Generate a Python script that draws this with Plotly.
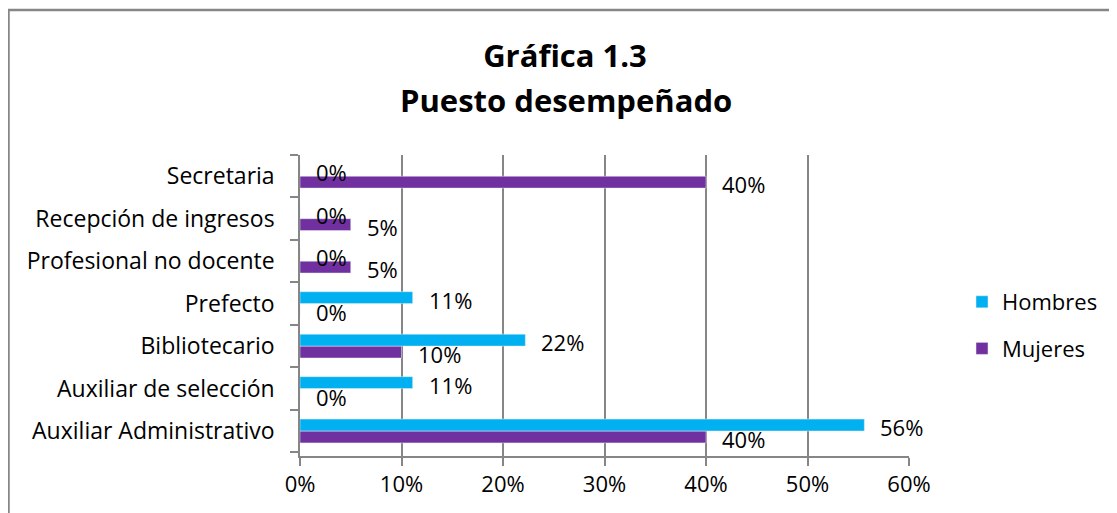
import plotly.graph_objects as go

categories = ["Auxiliar Administrativo", "Auxiliar de selección", "Bibliotecario",
              "Prefecto", "Profesional no docente", "Recepción de ingresos", "Secretaria"]
hombres = [0.556, 0.111, 0.222, 0.111, 0.0, 0.0, 0.0]
mujeres = [0.40, 0.0, 0.10, 0.0, 0.05, 0.05, 0.40]
x_ticks = [0, 0.1, 0.2, 0.3, 0.4, 0.5, 0.6]
x_tick_labels = ["0%", "10%", "20%", "30%", "40%", "50%", "60%"]
title_line1 = "Gráfica 1.3"
title_line2 = "Puesto desempeñado"

FONT = "'Open Sans', Lato, sans-serif"
C_H = "#00B0F0"
C_M = "#7030A0"
GRID = "#868686"

# page body has an 8px margin: figure drawn 8px lower/right
W, H = 1109, 505
L, R, T, B = 292, 208, 147, 57
pw, ph = W - L - R, H - T - B

fig = go.Figure()
fig.add_trace(go.Bar(y=categories, x=mujeres, orientation="h", name="Mujeres",
                     marker=dict(color=C_M), legendgroup="m", legendrank=2))
fig.add_trace(go.Bar(y=categories, x=hombres, orientation="h", name="Hombres",
                     marker=dict(color=C_H), legendgroup="h", legendrank=1))

def px_x(px):
    return (px - L) / pw

def px_y(py):
    return (T + ph - py) / ph

annotations = []
for series, shift in ((hombres, 4), (mujeres, -8)):
    for c, v in zip(categories, series):
        annotations.append(dict(x=v, y=c, xref="x", yref="y", text=f"{round(v*100):.0f}%",
                                showarrow=False, xanchor="left", xshift=14, yshift=shift,
                                font=dict(family=FONT, size=22, color="#000000")))
annotations.append(dict(x=px_x(558), y=px_y(92), xref="paper", yref="paper",
                        text=f"<b>{title_line2}</b>", showarrow=False,
                        xanchor="center", yanchor="middle",
                        font=dict(family=FONT, size=31, color="#000000")))

shapes = [
    dict(type="line", xref="paper", yref="paper",
         x0=px_x(0.5), x1=px_x(0.5), y0=px_y(2), y1=px_y(520),
         line=dict(color=GRID, width=2.5)),
    dict(type="line", xref="paper", yref="paper",
         x0=px_x(-1), x1=px_x(1120), y0=px_y(2), y1=px_y(2),
         line=dict(color=GRID, width=2.5)),
]

fig.update_layout(
    width=W, height=H,
    margin=dict(l=L, r=R, t=T, b=B, autoexpand=False),
    paper_bgcolor="white", plot_bgcolor="white",
    barmode="group", bargap=0.44, bargroupgap=0,
    title=dict(text=f"<b>{title_line1}</b>",
               x=557 / W, xanchor="center", xref="container",
               y=1 - 48 / H, yanchor="middle", yref="container",
               font=dict(family=FONT, size=31, color="#000000")),
    font=dict(family=FONT, size=22, color="#000000"),
    xaxis=dict(range=[0, 0.6], tickvals=x_ticks, ticktext=x_tick_labels,
               showgrid=True, gridcolor=GRID, gridwidth=1.5,
               showline=True, linecolor=GRID, linewidth=1.5,
               ticks="outside", ticklen=8, tickcolor=GRID, tickwidth=1.5,
               tickfont=dict(family=FONT, size=22), zeroline=False, automargin=False),
    yaxis=dict(showgrid=False, showline=True, linecolor=GRID, linewidth=1.5,
               ticks="outside", ticklen=8, tickcolor=GRID, tickwidth=1.5,
               tickson="boundaries", tickfont=dict(family=FONT, size=23),
               ticklabelstandoff=19, automargin=False),
    legend=dict(x=px_x(954), y=px_y(273), xanchor="left", yanchor="top",
                traceorder="grouped", tracegroupgap=15,
                font=dict(family=FONT, size=22), itemwidth=30),
    annotations=annotations,
    shapes=shapes,
)

fig.write_html("out.html")
